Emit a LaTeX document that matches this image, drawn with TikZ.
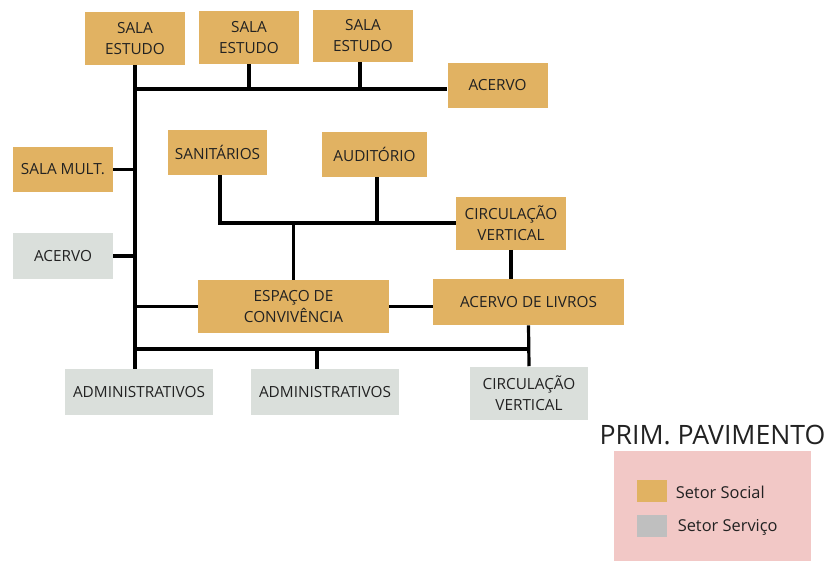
\documentclass[tikz,border=0pt]{standalone}
\usepackage{fontspec}
\setmainfont{Open Sans}
\usepackage{tikz}

\definecolor{social}{RGB}{225,178,98}
\definecolor{servico}{RGB}{218,223,219}
\definecolor{rosa}{RGB}{242,200,198}
\definecolor{cinza}{RGB}{191,191,191}
\definecolor{texto}{RGB}{34,34,34}

\begin{document}
\begin{tikzpicture}[x=0.75pt, y=-0.75pt,
                    every node/.style={inner sep=0pt, text=texto,
                                  font=\fontsize{11.5}{15.75}\selectfont,
                                  align=center},
                    caixa/.style 2 args={rectangle, minimum width=#1,
                                  minimum height=#2},
                    soc/.style={fill=social},
                    serv/.style={fill=servico},
                    lig/.style={line width=2.4pt, black}]
                      \useasboundingbox (0,0) rectangle (827,561);

                      % setor social
                      \node[soc, caixa={75pt}{39.75pt}] (SE1) at (135,38.5) {SALA\\ESTUDO};
                      \node[soc, caixa={75pt}{39.75pt}] (SE2) at (249,37.5) {SALA\\ESTUDO};
                      \node[soc, caixa={75pt}{39pt}] (SE3) at (363,36) {SALA\\ESTUDO};
                      \node[soc, caixa={75pt}{33.75pt}] (AC1) at (497.5,85.5) {ACERVO};
                      \node[soc, caixa={75pt}{33.75pt}] (SM) at (63,169.5) {SALA MULT.};
                      \node[soc, caixa={74.25pt}{33.75pt}] (SAN) at (217.5,152.5) {SANITÁRIOS};
                      \node[soc, caixa={78.75pt}{33.75pt}] (AUD) at (374.5,154.5) {AUDITÓRIO};
                      \node[soc, caixa={82.5pt}{39.75pt}] (CV1) at (511,223) {CIRCULAÇÃO\\VERTICAL};
                      \node[soc, caixa={143.25pt}{39.75pt}] (EC) at (293.5,306.5) {ESPAÇO DE\\CONVIVÊNCIA};
                      \node[soc, caixa={143.25pt}{34.5pt}] (AL) at (528.5,302) {ACERVO DE LIVROS};

                      % setor servico
                      \node[serv, caixa={75pt}{34.5pt}] (AC2) at (63,256) {ACERVO};
                      \node[serv, caixa={111pt}{34.5pt}] (AD1) at (139,392) {ADMINISTRATIVOS};
                      \node[serv, caixa={111pt}{34.5pt}] (AD2) at (325,392) {ADMINISTRATIVOS};
                      \node[serv, caixa={88.5pt}{39.75pt}] (CV2) at (529,393) {CIRCULAÇÃO\\VERTICAL};

                      % ligacoes
                      \coordinate (T) at (135,89);
                      \coordinate (B) at (135,349);
                      \draw[lig] (SE1.south) -- (SE1.south |- AD1.north);
                      \draw[lig] (T) -- (T -| AC1.west);
                      \draw[lig] (SE2.south) -- (SE2.south |- T);
                      \draw[lig] ([xshift=-2.25pt]SE3.south) -- ([xshift=-2.25pt]SE3.south |- T);
                      \foreach \n in {SM, AC2} {
                              \draw[lig] (\n.east) -- (\n.east -| SE1.south);
                          }
                      \draw[lig] (EC.west) -- (EC.west -| SE1.south);
                      \draw[lig] ([xshift=1.9pt]SAN.south) -- ([xshift=1.9pt]SAN.south |- CV1.west) -- (CV1.west);
                      \draw[lig] ([xshift=1.9pt]AUD.south) -- ([xshift=1.9pt]AUD.south |- CV1.west);
                      \draw[lig] (EC.north) -- (EC.north |- CV1.west);
                      \draw[lig] (EC.east) -- (EC.east -| AL.west);
                      \draw[lig] (CV1.south) -- (CV1.south |- AL.north);
                      \draw[lig] (B) -- (B -| AL.south);
                      \draw[lig] (AL.south) -- (CV2.north);
                      \draw[lig] ([xshift=-6pt]AD2.north) -- ([xshift=-6pt]AD2.north |- B);

                      % legenda
                      \node[font=\fontsize{20}{24}\selectfont] (TIT) at (712.5,435) {PRIM. PAVIMENTO};
                      \fill[rosa] (614,451) rectangle (811,561);
                      \node[fill=social, caixa={22pt}{16.5pt}] (LS) at (652,491) {};
                      \node[fill=cinza, caixa={22pt}{16.5pt}] (LC) at (652,525.5) {};
                      \node[anchor=west, font=\fontsize{12.3}{15}\selectfont] (TS) at (675.5,492) {Setor Social};
                      \node[anchor=west, font=\fontsize{12.3}{15}\selectfont] (TC) at (677.5,527) {Setor Serviço};
                  \end{tikzpicture}
\end{document}
